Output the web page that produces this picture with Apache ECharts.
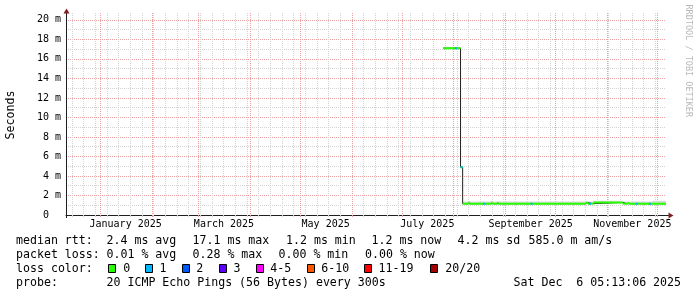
<!DOCTYPE html>
<html><head><meta charset="utf-8">
<script src="https://cdn.jsdelivr.net/npm/echarts@6/dist/echarts.min.js"></script>
<style>html,body{margin:0;padding:0;background:#fff}#c{width:697px;height:297px}</style>
</head><body><div id="c"></div>
<script>
// ---------- data ----------
const rangeStart = '2024-12-11 05:13:06';
const rangeEnd = '2025-12-06 05:13:06';
const monthStarts = ['2025-01-01','2025-02-01','2025-03-01','2025-04-01','2025-05-01','2025-06-01',
  '2025-07-01','2025-08-01','2025-09-01','2025-10-01','2025-11-01','2025-12-01'];
const firstWeekLine = '2024-12-15';
const xLabelDates = ['2025-01-16','2025-03-16','2025-05-16','2025-07-16','2025-09-16','2025-11-16'];
const xLabels = ['January 2025','March 2025','May 2025','July 2025','September 2025','November 2025'];
const yMaxMs = 20.5;

// median rtt (ms), value holds from each time until the next one
const medianTimes = ['2025-07-25 14:00','2025-08-04 22:30','2025-08-06 05:00','2025-08-09 14:00','2025-08-10 14:00',
  '2025-08-23 05:00','2025-08-24 05:00','2025-08-26 19:00','2025-08-27 19:00','2025-10-19 00:00','2025-10-20 05:00',
  '2025-10-23 14:00','2025-11-10 05:00','2025-11-13 02:00','2025-11-14 00:00','2025-11-28 00:00','2025-12-06 05:13'];
const medianMs = [17.1, 4.9, 1.16, 1.26, 1.16, 1.26, 1.16, 1.26, 1.16, 1.26, 1.16, 1.28, 1.16, 1.24, 1.16, 1.16, 1.16];
const smokeTopMs = [17.1, 4.9, 1.38, 1.38, 1.38, 1.38, 1.38, 1.38, 1.38, 1.40, 1.38, 1.46, 1.38, 1.38, 1.38, 1.46, 1.46];
// intervals with 1 lost ping out of 20
const loss1Start = ['2025-08-01 14:00','2025-08-04 22:30','2025-08-18 14:00','2025-09-16 00:00','2025-10-21 00:00','2025-11-18 00:00','2025-11-26 00:00'];
const loss1End   = ['2025-08-02 19:00','2025-08-06 05:00','2025-08-19 19:00','2025-09-17 05:00','2025-10-22 05:00','2025-11-19 05:00','2025-11-27 05:00'];

const lossLabels = ['0','1','2','3','4-5','6-10','11-19','20/20'];
const lossColors = ['#26ff00','#00b8ff','#0059ff','#5e00ff','#ff00ff','#ff5500','#ff0000','#a00000'];

const row1 = ['median rtt:','2.4 ms avg','17.1 ms max','1.2 ms min','1.2 ms now','4.2 ms sd','585.0 m am/s'];
const row2 = ['packet loss:','0.01 % avg','0.28 % max','0.00 % min','0.00 % now'];
const row3 = ['loss color:'];
const row4 = ['probe:','20 ICMP Echo Pings (56 Bytes) every 300s','Sat Dec  6 05:13:06 2025'];
const watermark = 'RRDTOOL / TOBI OETIKER';

// ---------- layout / style ----------
const FONT = 'DejaVu Sans Mono';
const GRID_MAJOR = '#eaa0a0';
const GRID_MINOR = '#d2d2d2';
const SMOKE = '#d8d8d8';
const AXIS = '#1f1f1f';
const ARROW = '#801f1f';
const row1X = [16, 106.5, 192.5, 286, 371.5, 457.5, 528.5];
const row2X = [16, 106.5, 192.5, 278.5, 365];
const row4X = [16, 106.5, 513.5];
const rowY = [240.6, 254.7, 268.8, 282.9];
const swatchLeft = [108, 145, 182, 219, 256, 307, 364, 430];
const swatchTextX = [123.3, 159.5, 196.3, 233.5, 270.3, 321.3, 378.5, 445.3];

function T(s) {
  const [d, tm] = s.split(' ');
  const [Y, M, D] = d.split('-').map(Number);
  const p = (tm || '00:00:00').split(':').map(Number);
  return new Date(Y, M - 1, D, p[0] || 0, p[1] || 0, p[2] || 0).getTime();
}
const DAY = 86400000;
const tStart = T(rangeStart), tEnd = T(rangeEnd);
const labelValues = xLabelDates.map(T);

const vgridData = [];
for (let t = T(firstWeekLine); t < tEnd; t += 7 * DAY) vgridData.push([t, 0]);
monthStarts.forEach(s => vgridData.push([T(s), 1]));

const mT = medianTimes.map(T);
function medianAt(t) { let k = 0; for (let i = 0; i < mT.length; i++) if (mT[i] <= t) k = i; return medianMs[k]; }

const smokeData = [];
for (let i = 0; i < mT.length - 1; i++) {
  if (smokeTopMs[i] > medianMs[i]) smokeData.push([mT[i], medianMs[i], smokeTopMs[i], mT[i + 1]]);
}
const medianLine = mT.map((t, i) => [t, medianMs[i]]);
const greenSegs = [];
for (let i = 0; i < mT.length - 1; i++) {
  greenSegs.push([mT[i], medianMs[i]], [mT[i + 1], medianMs[i]], [mT[i + 1], '-']);
}
const cyanSegs = [];
loss1Start.forEach((s, i) => {
  const a = T(s), b = T(loss1End[i]), v = medianAt(a);
  cyanSegs.push([a, v], [b, v], [b, '-']);
});

// ---------- graphics (legend, arrows, watermark) ----------
const g = [];
function txt(text, x, y, size, color) {
  g.push({ type: 'text', x: x, y: y, silent: true,
    style: { text: text, fontFamily: FONT, fontSize: size || 11.6, fill: color || '#000', align: 'left', verticalAlign: 'middle' } });
}
row1.forEach((s, i) => txt(s, row1X[i], rowY[0]));
row2.forEach((s, i) => txt(s, row2X[i], rowY[1]));
txt(row3[0], 16, rowY[2]);
lossLabels.forEach((s, i) => {
  g.push({ type: 'rect', silent: true, shape: { x: swatchLeft[i] + 0.5, y: 264.5, width: 7, height: 8 },
    style: { fill: lossColors[i], stroke: '#000', lineWidth: 1 } });
  txt(s, swatchTextX[i], rowY[2]);
});
row4.forEach((s, i) => txt(s, row4X[i], rowY[3]));
g.push({ type: 'text', x: 688, y: 4.5, rotation: -Math.PI / 2, silent: true,
  style: { text: watermark, fontFamily: FONT, fontSize: 8.5, fill: '#b8b8b8', align: 'left', verticalAlign: 'middle' } });
// axis extensions and arrows
g.push({ type: 'line', silent: true, shape: { x1: 66.5, y1: 15, x2: 66.5, y2: 12 }, style: { stroke: AXIS, lineWidth: 1 } });
g.push({ type: 'line', silent: true, shape: { x1: 66.5, y1: 215, x2: 66.5, y2: 218 }, style: { stroke: AXIS, lineWidth: 1 } });
g.push({ type: 'polygon', silent: true, shape: { points: [[63.5, 13.5], [69.5, 13.5], [66.5, 8.5]] }, style: { fill: ARROW } });
g.push({ type: 'line', silent: true, shape: { x1: 666, y1: 215.5, x2: 669, y2: 215.5 }, style: { stroke: AXIS, lineWidth: 1 } });
g.push({ type: 'polygon', silent: true, shape: { points: [[668.5, 212.5], [668.5, 218.5], [673.5, 215.5]] }, style: { fill: ARROW } });

const chart = echarts.init(document.getElementById('c'), null, { renderer: 'canvas' });
chart.setOption({
  animation: false,
  backgroundColor: '#ffffff',
  grid: { left: 66, top: 15, width: 600, height: 200, containLabel: false, outerBoundsMode: 'none' },
  xAxis: {
    type: 'value', min: tStart, max: tEnd, scale: true,
    axisLine: { show: true, lineStyle: { color: AXIS, width: 1 } },
    axisTick: { show: false },
    splitLine: { show: false },
    axisLabel: {
      customValues: labelValues,
      formatter: function (v) { let k = -1; labelValues.forEach((lv, i) => { if (Math.abs(lv - v) < 1000) k = i; }); return k >= 0 ? xLabels[k] : ''; },
      fontFamily: FONT, fontSize: 10, color: '#000', margin: 4, hideOverlap: false, showMinLabel: true, showMaxLabel: true
    }
  },
  yAxis: {
    type: 'value', min: 0, max: yMaxMs, interval: 1,
    name: 'Seconds', nameLocation: 'middle', nameGap: 49.5, nameRotate: 90,
    nameTextStyle: { fontFamily: FONT, fontSize: 11.6, color: '#000' },
    axisLine: { show: true, lineStyle: { color: AXIS, width: 1 } },
    axisTick: { show: false },
    axisLabel: {
      formatter: function (v) { if (v % 2 !== 0) return ''; return v === 0 ? '0  ' : v + ' m'; },
      fontFamily: FONT, fontSize: 10, color: '#000', margin: 5, showMaxLabel: false
    },
    splitLine: { show: true, showMaxLine: false, lineStyle: { color: [GRID_MAJOR, GRID_MINOR], type: [1, 1], width: 1 } }
  },
  series: [
    { type: 'custom', name: 'vgrid', clip: false, silent: true, data: vgridData, encode: { x: 0, y: 1 },
      renderItem: function (params, api) {
        const cs = params.coordSys;
        const x = Math.floor(api.coord([api.value(0), 0])[0]) + 0.5;
        const col = api.value(1) === 1 ? GRID_MAJOR : GRID_MINOR;
        return { type: 'group', children: [
          { type: 'line', shape: { x1: x, y1: cs.y - 2, x2: x, y2: cs.y + cs.height }, style: { stroke: col, lineWidth: 1, lineDash: [1, 1] } },
          { type: 'line', shape: { x1: x, y1: cs.y + cs.height, x2: x, y2: cs.y + cs.height + 2 }, style: { stroke: col, lineWidth: 1 } }
        ] };
      } },
    { type: 'custom', name: 'smoke', silent: true, data: smokeData, encode: { x: [0, 3], y: [1, 2] },
      renderItem: function (params, api) {
        const p1 = api.coord([api.value(0), api.value(2)]);
        const p2 = api.coord([api.value(3), api.value(1)]);
        return { type: 'rect', shape: { x: p1[0], y: p1[1], width: p2[0] - p1[0], height: p2[1] - p1[1] }, style: { fill: SMOKE } };
      } },
    { type: 'line', name: 'median', data: medianLine, step: 'end', symbol: 'none', silent: true, sampling: null,
      lineStyle: { color: '#202020', width: 1 } },
    { type: 'line', name: 'loss 0', data: greenSegs, symbol: 'none', silent: true, connectNulls: false,
      lineStyle: { color: lossColors[0], width: 2, cap: 'butt' } },
    { type: 'line', name: 'loss 1', data: cyanSegs, symbol: 'none', silent: true, connectNulls: false,
      lineStyle: { color: lossColors[1], width: 2, cap: 'butt' } }
  ],
  graphic: { elements: g }
});
</script></body></html>
